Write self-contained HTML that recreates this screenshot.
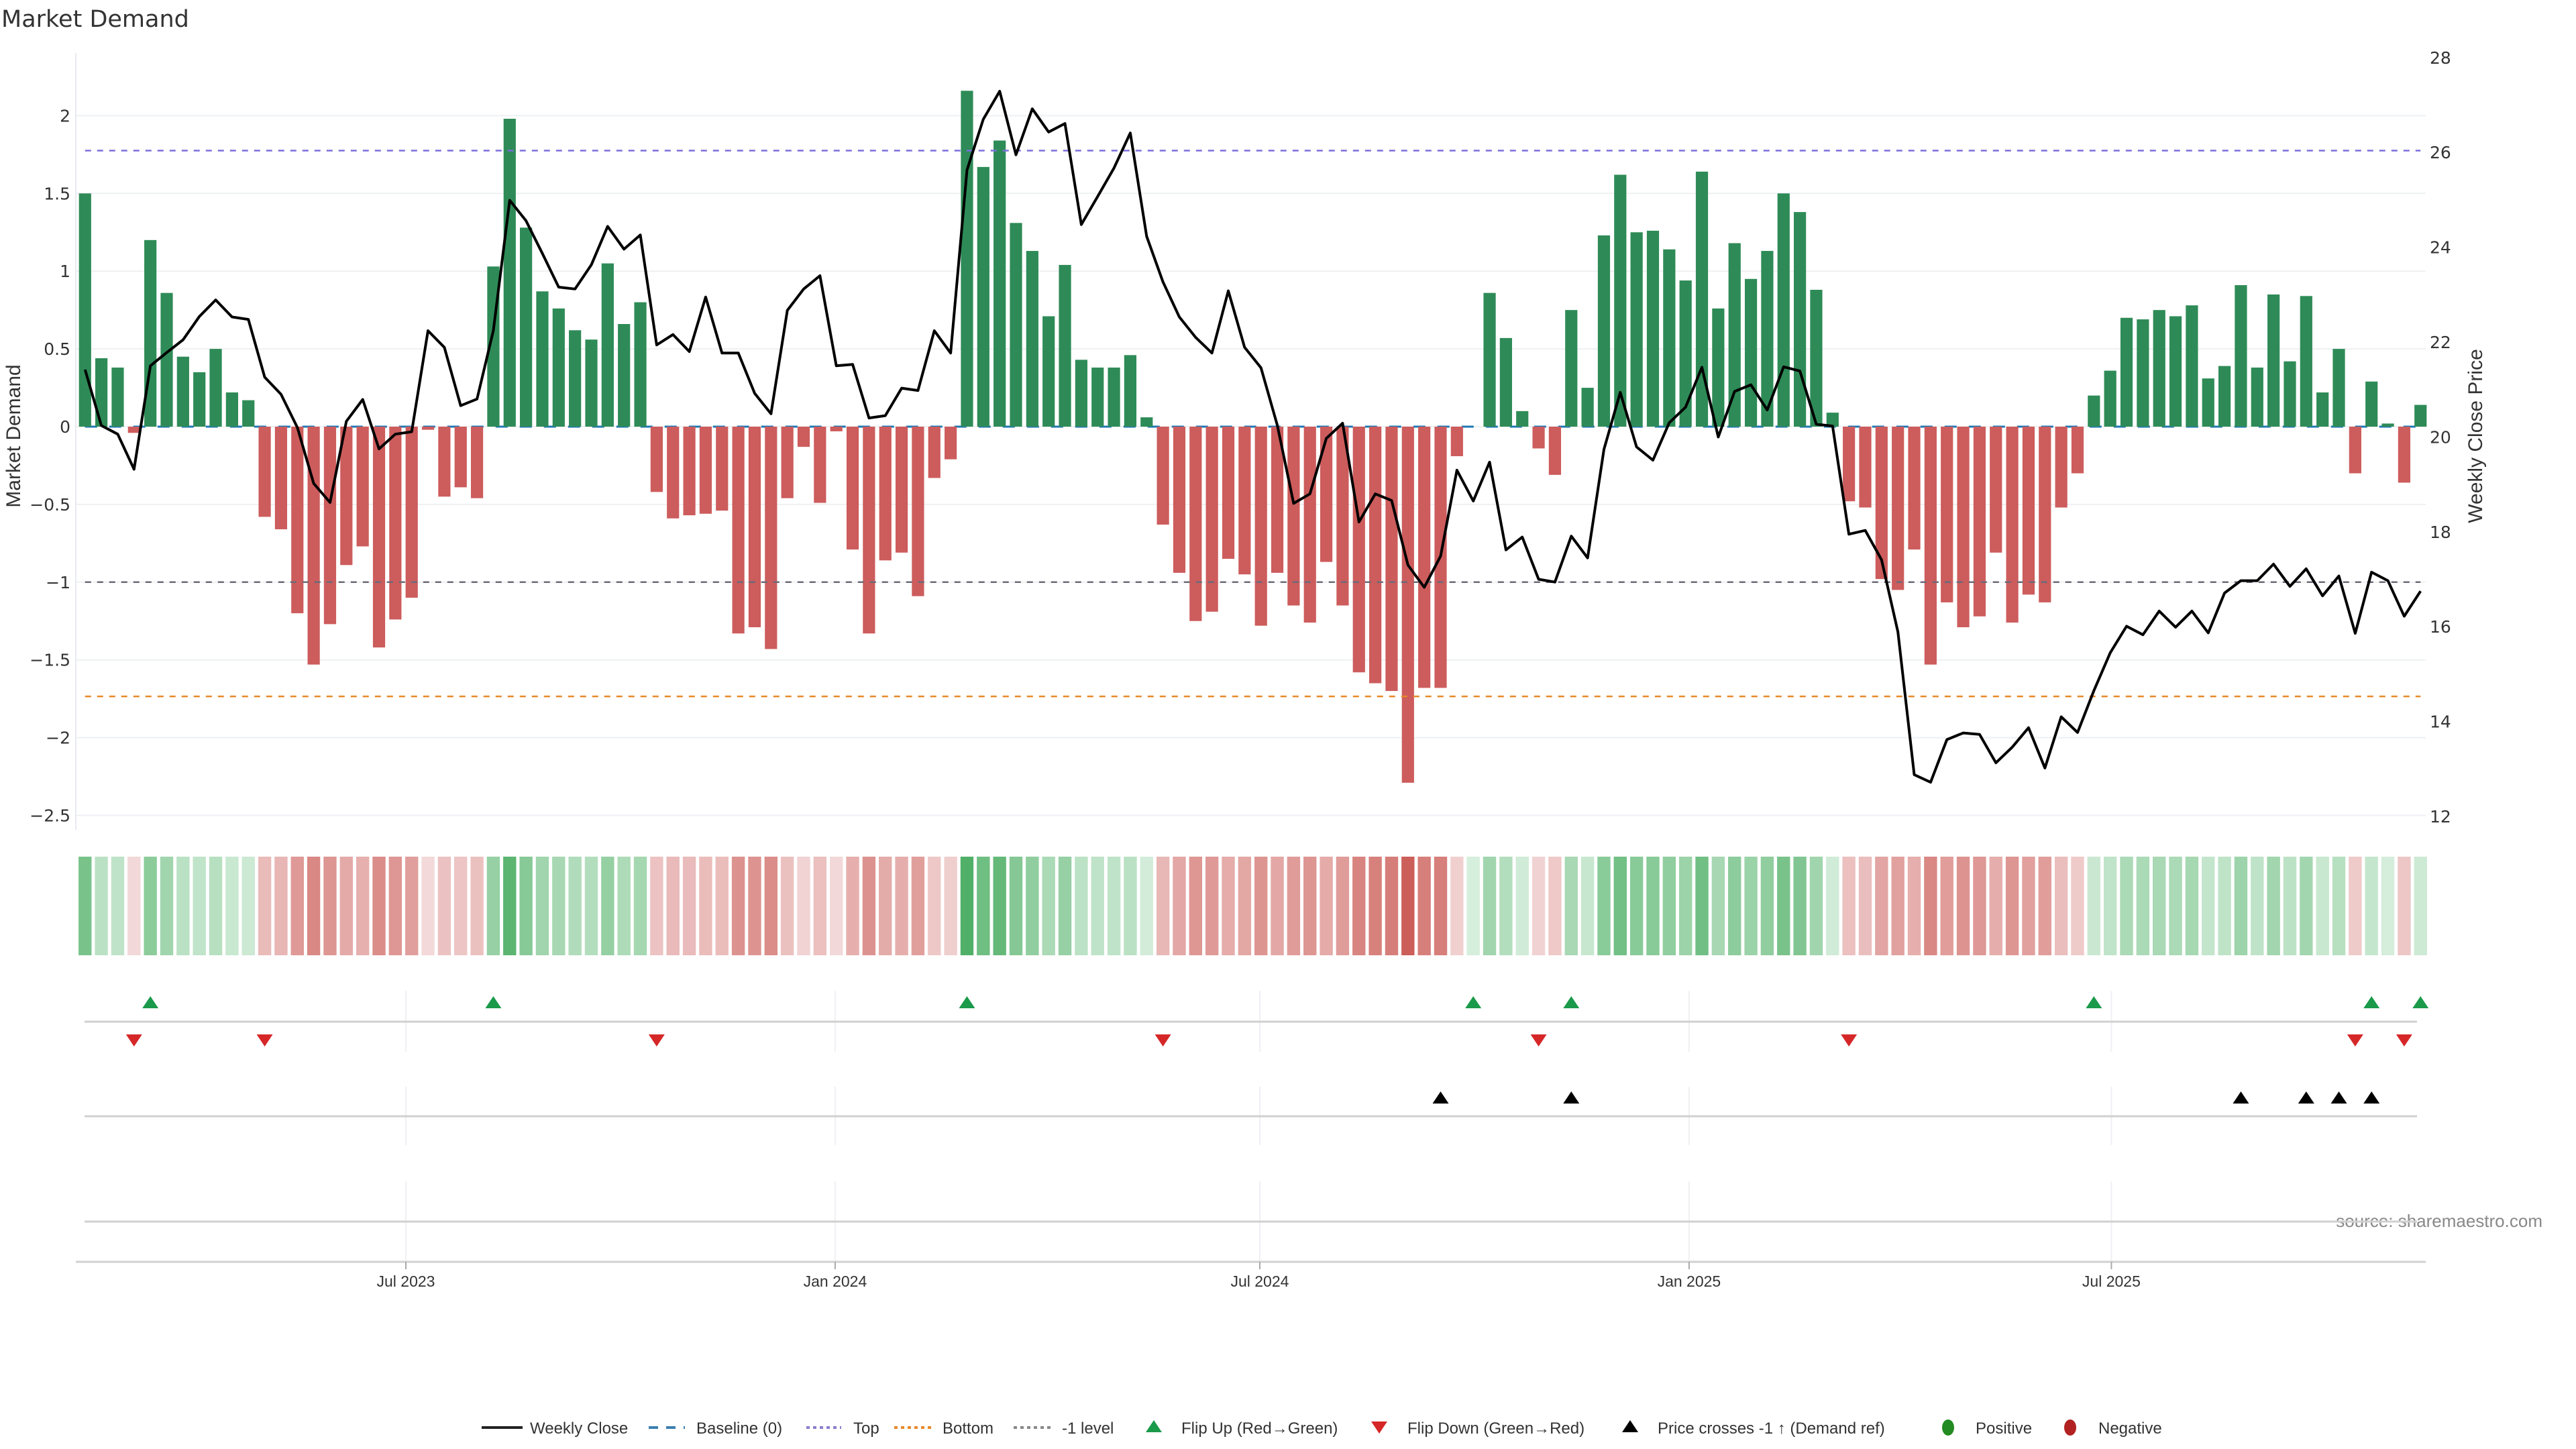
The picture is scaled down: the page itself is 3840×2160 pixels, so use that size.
<!DOCTYPE html>
<html><head><meta charset="utf-8"><title>Market Demand</title>
<style>html,body{margin:0;padding:0;background:#fff;}svg{display:block;}</style>
</head><body>
<svg id="chart" xmlns="http://www.w3.org/2000/svg" width="3840" height="2160" viewBox="0 0 3840 2160">
<text x="2" y="40" font-family="DejaVu Sans, sans-serif" font-size="35" fill="#333">Market Demand</text>
<text transform="translate(30,650) rotate(-90)" text-anchor="middle" font-family="Liberation Sans, sans-serif" font-size="30" fill="#333">Market Demand</text>
<text transform="translate(3700,650) rotate(-90)" text-anchor="middle" font-family="Liberation Sans, sans-serif" font-size="30" fill="#333">Weekly Close Price</text>
<text x="3790" y="1829" text-anchor="end" font-family="Liberation Sans, sans-serif" font-size="26" fill="#888">source: sharemaestro.com</text>
<g id="g"></g>
</svg>
<script>
const startDate = "2023-02-13";
const demand = [1.5,0.44,0.38,-0.04,1.2,0.86,0.45,0.35,0.5,0.22,0.17,-0.58,-0.66,-1.2,-1.53,-1.27,-0.89,-0.77,-1.42,-1.24,-1.1,-0.02,-0.45,-0.39,-0.46,
1.03,1.98,1.28,0.87,0.76,0.62,0.56,1.05,0.66,0.8,
-0.42,-0.59,-0.57,-0.56,-0.54,-1.33,-1.29,-1.43,-0.46,-0.13,-0.49,-0.03,-0.79,-1.33,-0.86,-0.81,-1.09,-0.33,-0.21,
2.16,1.67,1.84,1.31,1.13,0.71,1.04,0.43,0.38,0.38,0.46,0.06,
-0.63,-0.94,-1.25,-1.19,-0.85,-0.95,-1.28,-0.94,-1.15,-1.26,-0.87,-1.15,-1.58,-1.65,-1.7,-2.29,-1.68,-1.68,-0.19,0,
0.86,0.57,0.1,-0.14,-0.31,0.75,0.25,1.23,1.62,1.25,1.26,1.14,0.94,1.64,0.76,1.18,0.95,1.13,1.5,1.38,0.88,0.09,
-0.48,-0.52,-0.98,-1.05,-0.79,-1.53,-1.13,-1.29,-1.22,-0.81,-1.26,-1.08,-1.13,-0.52,-0.3,
0.2,0.36,0.7,0.69,0.75,0.71,0.78,0.31,0.39,0.91,0.38,0.85,0.42,0.84,0.22,0.5,-0.3,0.29,0.02,-0.36,0.14];
const price = [21.42,20.24,20.06,19.32,21.5,21.78,22.05,22.54,22.89,22.53,22.48,21.26,20.9,20.2,19.02,18.62,20.33,20.79,19.75,20.06,20.11,22.24,21.89,20.66,20.8,22.24,24.99,24.56,23.87,23.16,23.12,23.63,24.44,23.96,24.26,21.94,22.16,21.8,22.95,21.77,21.77,20.92,20.49,22.67,23.12,23.4,21.5,21.53,20.4,20.45,21.03,20.98,22.24,21.77,25.63,26.7,27.29,25.95,26.92,26.43,26.61,24.48,25.07,25.67,26.41,24.23,23.27,22.53,22.1,21.77,23.08,21.89,21.46,20.25,18.6,18.8,19.97,20.29,18.21,18.8,18.66,17.3,16.83,17.49,19.3,18.65,19.47,17.62,17.89,17.0,16.94,17.91,17.45,19.74,20.94,19.79,19.51,20.3,20.63,21.47,20.0,20.96,21.1,20.57,21.48,21.39,20.27,20.23,17.95,18.03,17.41,15.89,12.88,12.72,13.62,13.76,13.73,13.13,13.46,13.87,13.02,14.1,13.77,14.65,15.45,16.01,15.83,16.33,15.99,16.33,15.87,16.71,16.97,16.97,17.32,16.85,17.22,16.65,17.07,15.86,17.15,16.97,16.22,16.75];
const flipUp = [4,25,54,85,91,123,140,143];
const flipDown = [3,11,35,66,89,108,139,142];
const priceCross = [83,91,132,136,138,140];
const leftTicks = [2,1.5,1,0.5,0,-0.5,-1,-1.5,-2,-2.5];
const rightTicks = [28,26,24,22,20,18,16,14,12];
const xTickDates = ["2023-07-01","2024-01-01","2024-07-01","2025-01-01","2025-07-01"];
const xTickLabels = ["Jul 2023","Jan 2024","Jul 2024","Jan 2025","Jul 2025"];
const levelTop = 1.775, levelBottom = -1.735, levelMinus1 = -1;

const NS = "http://www.w3.org/2000/svg";
const g = document.getElementById('g');
function mk(tag, attrs, parent){const e=document.createElementNS(NS,tag);for(const k in attrs)e.setAttribute(k,attrs[k]);(parent||g).appendChild(e);return e;}
const DAY=86400000, t0=Date.UTC(2023,6,1);
function xDate(ms){return 605+(ms-t0)/DAY*3.478;}
const startMs=Date.parse(startDate+"T12:00:00Z");
function xIdx(i){return xDate(startMs+i*7*DAY);}
function yL(v){return 636-231.8*v;}
function yR(p){return 651.4-(p-20)*70.7;}
const X0=113,X1=3616;
const FT="DejaVu Sans, sans-serif";

leftTicks.forEach(v=>{
  const l=mk('line',{x1:X0,x2:X1,y1:yL(v),y2:yL(v),stroke:'#eef0f3','stroke-width':2});
  
  
  const t=mk('text',{x:105,y:yL(v)+9,'text-anchor':'end','font-family':FT,'font-size':25,fill:'#333'});
  t.textContent=(v<0?'\u2212':'')+Math.abs(v);
  
  
});
rightTicks.forEach(p=>{
  const t=mk('text',{x:3622,y:yR(p)+9,'font-family':FT,'font-size':25,fill:'#333'});
  t.textContent=p;
  
  
});
const ax=mk('line',{x1:X0,x2:X0,y1:79,y2:1237,stroke:'#e8eaf0','stroke-width':2});



const xa=xIdx(0), xb=xIdx(demand.length-1);
const bl=mk('line',{x1:xa,x2:xb,y1:yL(0),y2:yL(0),stroke:'#1f77b4','stroke-width':3,'stroke-dasharray':'18 18'});


demand.forEach((v,i)=>{
  const x=xIdx(i), y0=yL(0), y1=yL(v);
  const r=mk('rect',{x:x-9.1,width:18.2,y:Math.min(y0,y1),height:Math.max(Math.abs(y1-y0),0.01),fill:v>=0?'#2e8b57':'#cd5c5c'});
  
  
});
[[levelTop,'#7b6fdc','top-level-line'],[levelBottom,'#e8892a','bottom-level-line'],[levelMinus1,'#6b6b78','minus1-level-line']].forEach(a=>{
  const l=mk('line',{x1:xa,x2:xb,y1:yL(a[0]),y2:yL(a[0]),stroke:a[1],'stroke-width':2.5,'stroke-dasharray':'9 9'});
  
  
});
const pts=price.map((p,i)=>xIdx(i).toFixed(1)+','+yR(p).toFixed(1)).join(' ');
const pl=mk('polyline',{points:pts,fill:'none',stroke:'#000','stroke-width':4,'stroke-linejoin':'round'});



function mix(a,b,t){return 'rgb('+a.map((c,k)=>Math.round(c+(b[k]-c)*t)).join(',')+')';}
demand.forEach((v,i)=>{
  const t=Math.min(Math.abs(v)/2.3,1);
  const col=v>=0?mix([214,238,220],[72,172,96],t):mix([243,218,218],[204,94,88],t);
  const r=mk('rect',{x:xIdx(i)-9.7,width:19.4,y:1277,height:147,fill:col});
  
  
});

const xticksMs=xTickDates.map(d=>Date.parse(d+"T00:00:00Z"));
[[1477,1568],[1620,1707],[1761,1881]].forEach(s=>{
  xticksMs.forEach(ms=>{
    const l=mk('line',{x1:xDate(ms),x2:xDate(ms),y1:s[0],y2:s[1],stroke:'#eef0f3','stroke-width':2});
    
    
  });
});
[1523,1664,1821].forEach(y=>{
  const l=mk('line',{x1:126,x2:3603,y1:y,y2:y,stroke:'#d0d0d0','stroke-width':3});
  
  
});
const xl=mk('line',{x1:X0,x2:X1,y1:1881,y2:1881,stroke:'#d0d0d0','stroke-width':3});


xticksMs.forEach((ms,k)=>{
  const x=xDate(ms);
  const tk=mk('line',{x1:x,x2:x,y1:1881,y2:1892,stroke:'#aaa','stroke-width':2});
  
  
  const t=mk('text',{x:x,y:1918,'text-anchor':'middle','font-family':'Liberation Sans, sans-serif','font-size':23,fill:'#333'});
  t.textContent=xTickLabels[k];
  
  
});
function tri(cx,cy,up,col){
  const w=12,h=9;
  const d=up?`M${cx-w},${cy+h} L${cx+w},${cy+h} L${cx},${cy-h} Z`:`M${cx-w},${cy-h} L${cx+w},${cy-h} L${cx},${cy+h} Z`;
  return mk('path',{d:d,fill:col});
}
flipUp.forEach(i=>{const p=tri(xIdx(i),1494,true,'#1a9a4a');});
flipDown.forEach(i=>{const p=tri(xIdx(i),1551,false,'#d62728');});
priceCross.forEach(i=>{const p=tri(xIdx(i),1636,true,'#000');});

const LY=2128;
function ltext(x,s){const t=mk('text',{x:x,y:LY+9,'font-family':'Liberation Sans, sans-serif','font-size':24,fill:'#333'});t.textContent=s;return t;}
function lline(x1,x2,col,dash,w){const l=mk('line',{x1:x1,x2:x2,y1:LY,y2:LY,stroke:col,'stroke-width':w,'stroke-dasharray':dash});}
lline(718,779,'#222','none',4);ltext(790,'Weekly Close');
lline(967,1021,'#3a7fb0','14 12',4);ltext(1038,'Baseline (0)');
lline(1202,1254,'#8a7fd0','5 5',4);ltext(1272,'Top');
lline(1333,1388,'#e8892a','5 5',4);ltext(1405,'Bottom');
lline(1511,1566,'#888','5 5',4);ltext(1583,'-1 level');
{const p=tri(1720,LY-2,true,'#1a9a4a');}
ltext(1761,'Flip Up (Red\u2192Green)');
{const p=tri(2056,LY,false,'#d62728');}
ltext(2098,'Flip Down (Green\u2192Red)');
{const p=tri(2430,LY-2,true,'#000');}
ltext(2471,'Price crosses -1 \u2191 (Demand ref)');
{const c=mk('ellipse',{cx:2904,cy:LY,rx:9,ry:12,fill:'#228b22'});}
ltext(2945,'Positive');
{const c=mk('ellipse',{cx:3086,cy:LY,rx:9,ry:12,fill:'#b22222'});}
ltext(3128,'Negative');
</script>
</body></html>
